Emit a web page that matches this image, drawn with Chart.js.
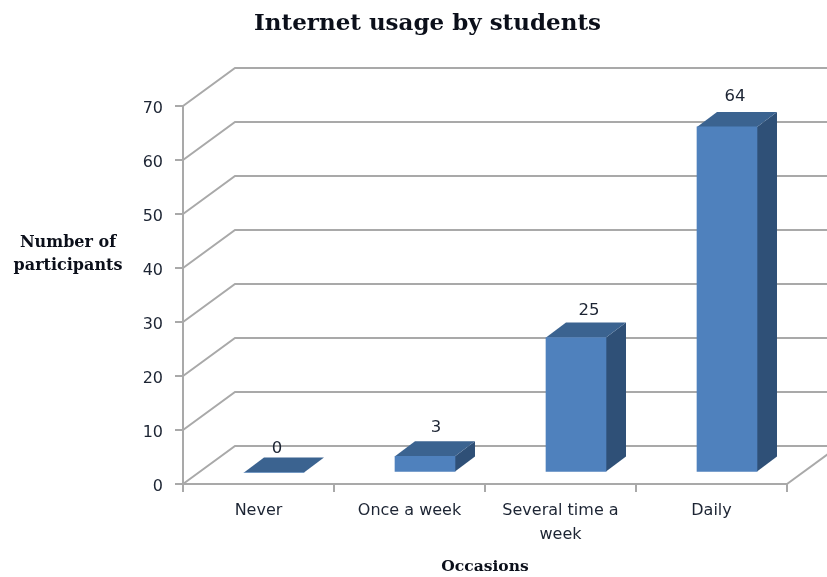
<!DOCTYPE html>
<html>
<head>
<meta charset="utf-8">
<title>Internet usage by students</title>
<script src="https://cdn.jsdelivr.net/npm/chart.js@4/dist/chart.umd.min.js"></script>
<style>
  html, body { margin: 0; padding: 0; background: #fff; }
  #wrap { position: relative; width: 827px; height: 577px; overflow: hidden; }
  canvas { display: block; }
</style>
</head>
<body>
<div id="wrap"><canvas id="barChart" width="827" height="577"></canvas></div>
<script>
var categories = ["Never", "Once a week", ["Several time a", "week"], "Daily"]
var participants = [0, 3, 25, 64]
var yTicks = [0, 10, 20, 30, 40, 50, 60, 70]
var yTitleLines = ["Number of", "participants"]

var FRONT = '#4f81bd'
var TOP = '#3b6390'
var SIDE = '#2f5077'
var GRID = '#a9a9a9'
var TEXT = '#1c2433'
var SERIF = '"DejaVu Serif", serif'
var SANS = '"DejaVu Sans", sans-serif'

// the box depth of the floor/walls and of the bars
var WALL_DX = 52, WALL_DY = 38
var BAR_DX = 20, BAR_DY = 15
var BAR_SHIFT_X = 15.5, BAR_SHIFT_Y = 11.5
// excel nudges each data label a bit differently
var labelNudge = [[3, -24], [11, -29], [13, -27], [8, -30]]

var threeD = {
  id: 'threeD',
  afterLayout: function (chart) {
    // title is centred a little right of the page centre
    chart.titleBlock.left += 34
    chart.titleBlock.right += 34
    // y tick labels sit just under their tick marks
    chart.scales.y.getLabelItems().forEach(function (item) {
      item.options.translation[1] += 2.5
    })
  },
  beforeDatasetsDraw: function (chart) {
    var ctx = chart.ctx
    var area = chart.chartArea
    var y = chart.scales.y

    ctx.save()
    ctx.strokeStyle = GRID
    ctx.lineWidth = 2
    yTicks.forEach(function (t) {
      var py = y.getPixelForValue(t)
      ctx.beginPath()
      ctx.moveTo(area.left, py)
      ctx.lineTo(area.left + WALL_DX, py - WALL_DY)
      ctx.lineTo(chart.width, py - WALL_DY)
      ctx.stroke()
    })
    // right edge of the floor
    ctx.beginPath()
    ctx.moveTo(area.right, area.bottom)
    ctx.lineTo(area.right + WALL_DX, area.bottom - WALL_DY)
    ctx.stroke()
    ctx.restore()

    // faces behind the bar fronts, then shift the real bars onto the floor
    ctx.save()
    ctx.translate(BAR_SHIFT_X, -BAR_SHIFT_Y)
    chart.getDatasetMeta(0).data.forEach(function (bar) {
      var l = bar.x - bar.width / 2
      var r = bar.x + bar.width / 2
      ctx.fillStyle = SIDE
      ctx.beginPath()
      ctx.moveTo(r, bar.y)
      ctx.lineTo(r + BAR_DX, bar.y - BAR_DY)
      ctx.lineTo(r + BAR_DX, bar.base - BAR_DY)
      ctx.lineTo(r, bar.base)
      ctx.closePath()
      ctx.fill()
      ctx.fillStyle = TOP
      ctx.beginPath()
      ctx.moveTo(l, bar.y)
      ctx.lineTo(l + BAR_DX, bar.y - BAR_DY)
      ctx.lineTo(r + BAR_DX, bar.y - BAR_DY)
      ctx.lineTo(r, bar.y)
      ctx.closePath()
      ctx.fill()
    })
  },
  afterDatasetsDraw: function (chart) {
    var ctx = chart.ctx
    ctx.restore()

    ctx.save()
    ctx.fillStyle = TEXT
    ctx.textAlign = 'center'
    ctx.textBaseline = 'middle'
    ctx.font = '16.5px ' + SANS
    chart.getDatasetMeta(0).data.forEach(function (bar, i) {
      ctx.fillText(participants[i], bar.x + BAR_SHIFT_X + labelNudge[i][0],
        bar.y - BAR_SHIFT_Y + labelNudge[i][1])
    })

    // y axis title sits horizontal, left of the ticks
    ctx.fillStyle = '#0b0f1a'
    ctx.font = 'bold 16px ' + SERIF
    yTitleLines.forEach(function (line, i) {
      ctx.fillText(line, 68, 243 + i * 23)
    })
    ctx.restore()
  }
}

var barChart = new Chart(document.getElementById('barChart'), {
  type: 'bar',
  data: {
    labels: categories,
    datasets: [
      {
        label: "Number of participants",
        data: participants,
        backgroundColor: FRONT,
        barThickness: 60,
        clip: false
      }
    ]
  },
  options: {
    responsive: false,
    animation: false,
    devicePixelRatio: 1,
    layout: { padding: { top: 0, right: 40, bottom: 0, left: 0 } },
    plugins: {
      legend: { display: false },
      tooltip: { enabled: false },
      title: {
        display: true,
        text: "Internet usage by students",
        color: '#0b0f1a',
        font: { family: SERIF, size: 23, weight: 'bold', lineHeight: '32px' },
        padding: { top: 8, bottom: 66 }
      }
    },
    scales: {
      x: {
        afterFit: function (scale) { scale.height = 93 },
        grid: { drawOnChartArea: false, color: GRID, lineWidth: 2, tickLength: 8 },
        border: { color: GRID, width: 2 },
        ticks: { color: TEXT, font: { family: SANS, size: 16, lineHeight: '24px' }, padding: 7, maxRotation: 0, autoSkip: false },
        title: {
          display: true,
          text: "Occasions",
          color: '#0b0f1a',
          font: { family: SERIF, size: 15.5, weight: 'bold' },
          padding: { top: 0, bottom: 1 }
        }
      },
      y: {
        min: 0,
        max: 70,
        afterFit: function (scale) { scale.width = 183 },
        afterBuildTicks: function (scale) {
          scale.ticks = yTicks.map(function (v) { return { value: v } })
        },
        grid: { drawOnChartArea: false, color: GRID, lineWidth: 2, tickLength: 8 },
        border: { color: GRID, width: 2 },
        ticks: { color: TEXT, font: { family: SANS, size: 16 }, padding: 12 }
      }
    }
  },
  plugins: [threeD]
})
</script>
</body>
</html>
